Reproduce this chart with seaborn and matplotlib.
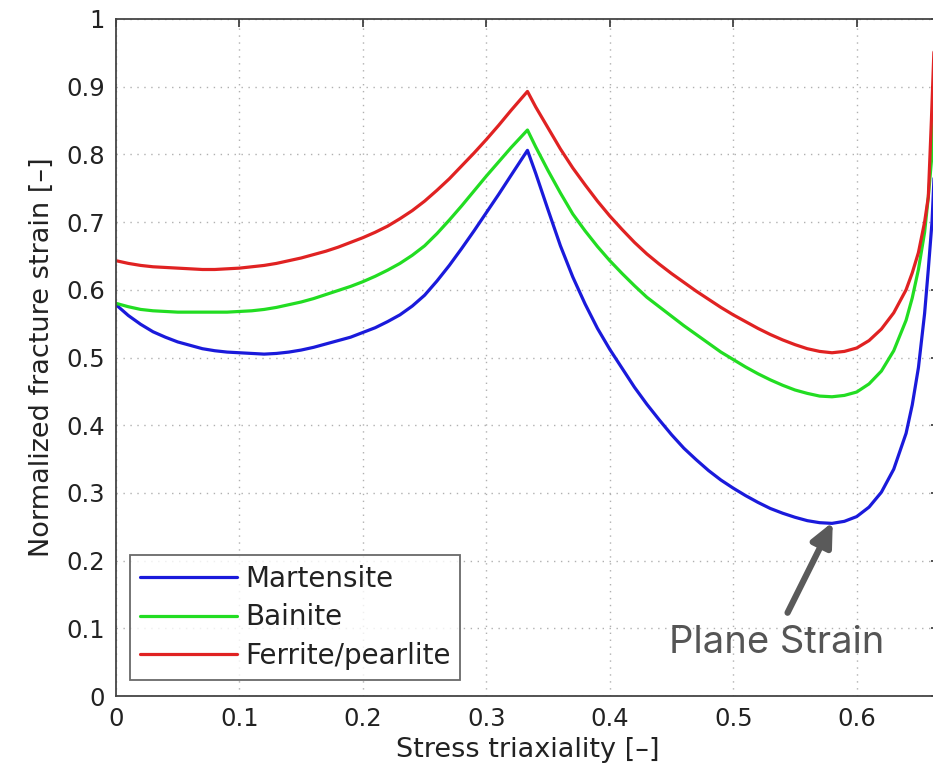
import numpy as np
import pandas as pd
import matplotlib
matplotlib.use("Agg")
import matplotlib.pyplot as plt
import seaborn as sns

# ---- data ----
materials = ["Martensite", "Bainite", "Ferrite/pearlite"]

x_mart = [0.000, 0.010, 0.020, 0.030, 0.040, 0.050, 0.060, 0.070, 0.080, 0.090,
          0.100, 0.110, 0.120, 0.130, 0.140, 0.150, 0.160, 0.170, 0.180, 0.190,
          0.200, 0.210, 0.220, 0.230, 0.240, 0.250, 0.260, 0.270, 0.280, 0.290,
          0.300, 0.310, 0.320, 0.3333, 0.340, 0.350, 0.360, 0.370, 0.380, 0.390,
          0.400, 0.410, 0.420, 0.430, 0.440, 0.450, 0.460, 0.470, 0.480, 0.490,
          0.500, 0.510, 0.520, 0.530, 0.540, 0.550, 0.560, 0.570, 0.580, 0.590,
          0.600, 0.610, 0.620, 0.630, 0.640, 0.645, 0.650, 0.655, 0.658, 0.661,
          0.6635, 0.6667]
y_mart = [0.578, 0.562, 0.549, 0.538, 0.530, 0.523, 0.518, 0.513, 0.510, 0.508,
          0.507, 0.506, 0.505, 0.506, 0.508, 0.511, 0.515, 0.520, 0.525, 0.530,
          0.537, 0.544, 0.553, 0.563, 0.576, 0.592, 0.613, 0.636, 0.661, 0.687,
          0.714, 0.741, 0.769, 0.806, 0.772, 0.718, 0.665, 0.619, 0.579, 0.543,
          0.512, 0.484, 0.456, 0.431, 0.408, 0.386, 0.366, 0.349, 0.333, 0.319,
          0.307, 0.296, 0.286, 0.277, 0.270, 0.264, 0.259, 0.256, 0.255, 0.258,
          0.265, 0.279, 0.301, 0.335, 0.388, 0.430, 0.485, 0.565, 0.630, 0.700,
          0.800, 1.000]

x_bain = [0.000, 0.010, 0.020, 0.030, 0.040, 0.050, 0.060, 0.070, 0.080, 0.090,
          0.100, 0.110, 0.120, 0.130, 0.140, 0.150, 0.160, 0.170, 0.180, 0.190,
          0.200, 0.210, 0.220, 0.230, 0.240, 0.250, 0.260, 0.270, 0.280, 0.290,
          0.300, 0.310, 0.320, 0.3333, 0.340, 0.350, 0.360, 0.370, 0.380, 0.390,
          0.400, 0.410, 0.420, 0.430, 0.440, 0.450, 0.460, 0.470, 0.480, 0.490,
          0.500, 0.510, 0.520, 0.530, 0.540, 0.550, 0.560, 0.570, 0.580, 0.590,
          0.600, 0.610, 0.620, 0.630, 0.640, 0.645, 0.650, 0.655, 0.658, 0.661,
          0.6635, 0.6667]
y_bain = [0.580, 0.575, 0.571, 0.569, 0.568, 0.567, 0.567, 0.567, 0.567, 0.567,
          0.568, 0.569, 0.571, 0.574, 0.578, 0.582, 0.587, 0.593, 0.599, 0.605,
          0.612, 0.620, 0.629, 0.639, 0.651, 0.665, 0.683, 0.703, 0.724, 0.746,
          0.768, 0.789, 0.810, 0.836, 0.811, 0.776, 0.743, 0.712, 0.687, 0.664,
          0.643, 0.624, 0.606, 0.589, 0.575, 0.561, 0.547, 0.534, 0.521, 0.508,
          0.497, 0.486, 0.476, 0.467, 0.459, 0.452, 0.447, 0.443, 0.442, 0.444,
          0.449, 0.461, 0.480, 0.510, 0.555, 0.588, 0.630, 0.685, 0.737, 0.800,
          0.880, 1.000]

x_ferr = [0.000, 0.010, 0.020, 0.030, 0.040, 0.050, 0.060, 0.070, 0.080, 0.090,
          0.100, 0.110, 0.120, 0.130, 0.140, 0.150, 0.160, 0.170, 0.180, 0.190,
          0.200, 0.210, 0.220, 0.230, 0.240, 0.250, 0.260, 0.270, 0.280, 0.290,
          0.300, 0.310, 0.320, 0.3333, 0.340, 0.350, 0.360, 0.370, 0.380, 0.390,
          0.400, 0.410, 0.420, 0.430, 0.440, 0.450, 0.460, 0.470, 0.480, 0.490,
          0.500, 0.510, 0.520, 0.530, 0.540, 0.550, 0.560, 0.570, 0.580, 0.590,
          0.600, 0.610, 0.620, 0.630, 0.640, 0.645, 0.650, 0.655, 0.658, 0.6605,
          0.6625, 0.6667]
y_ferr = [0.643, 0.639, 0.636, 0.634, 0.633, 0.632, 0.631, 0.630, 0.630, 0.631,
          0.632, 0.634, 0.636, 0.639, 0.643, 0.647, 0.652, 0.657, 0.663, 0.670,
          0.677, 0.685, 0.694, 0.705, 0.717, 0.731, 0.747, 0.764, 0.783, 0.802,
          0.822, 0.843, 0.865, 0.893, 0.870, 0.839, 0.808, 0.780, 0.755, 0.731,
          0.709, 0.689, 0.670, 0.653, 0.638, 0.624, 0.611, 0.598, 0.586, 0.574,
          0.563, 0.553, 0.543, 0.534, 0.526, 0.519, 0.513, 0.509, 0.507, 0.509,
          0.514, 0.525, 0.542, 0.566, 0.600, 0.625, 0.655, 0.700, 0.737, 0.850,
          0.950, 1.000]

x_ticks = [0, 0.1, 0.2, 0.3, 0.4, 0.5, 0.6]
x_ticklabels = ["0", "0.1", "0.2", "0.3", "0.4", "0.5", "0.6"]
y_ticks = [0, 0.1, 0.2, 0.3, 0.4, 0.5, 0.6, 0.7, 0.8, 0.9, 1.0]
y_ticklabels = ["0", "0.1", "0.2", "0.3", "0.4", "0.5", "0.6", "0.7", "0.8", "0.9", "1"]

colors = {"Martensite": "#1a1adb", "Bainite": "#22dd22", "Ferrite/pearlite": "#e02222"}

df = pd.concat([
    pd.DataFrame({"x": x_mart, "y": y_mart, "material": materials[0]}),
    pd.DataFrame({"x": x_bain, "y": y_bain, "material": materials[1]}),
    pd.DataFrame({"x": x_ferr, "y": y_ferr, "material": materials[2]}),
], ignore_index=True)

sns.set_style("white")
plt.rcParams["font.family"] = ["DejaVu Sans"]

fig = plt.figure(figsize=(9.33, 7.78), dpi=100)
ax = fig.add_axes([116 / 933, 82 / 778, (939 - 116) / 933, (696 - 19) / 778])

sns.lineplot(data=df, x="x", y="y", hue="material", hue_order=materials,
             palette=colors, sort=False, estimator=None, linewidth=2.3, ax=ax,
             legend=True)

ax.set_xlim(0, 2 / 3)
ax.set_ylim(0, 1)
ax.set_xticks(x_ticks)
ax.set_xticklabels(x_ticklabels)
ax.set_yticks(y_ticks)
ax.set_yticklabels(y_ticklabels)
ax.tick_params(direction="in", length=6, width=1.2, color="#333333",
               labelsize=17.5, labelcolor="#222222", top=True, right=True,
               pad=8)
ax.grid(True, linestyle=(0, (1, 4)), color="#b0b0b0", linewidth=1.0)
for s in ax.spines.values():
    s.set_color("#444444")
    s.set_linewidth(1.3)

ax.set_xlabel("Stress triaxiality [\u2013]", fontsize=19.5, color="#222222", labelpad=4)
ax.set_ylabel("Normalized fracture strain [\u2013]", fontsize=19.5, color="#222222", labelpad=8)

leg = ax.legend(loc="lower left", bbox_to_anchor=(0.017, 0.024), fontsize=20,
                frameon=True, fancybox=False, edgecolor="#444444",
                handlelength=3.5, handletextpad=0.3, labelspacing=0.38,
                borderpad=0.35, borderaxespad=0)
leg.get_frame().set_linewidth(1.3)
for t in leg.get_texts():
    t.set_color("#222222")
for l in leg.get_lines():
    l.set_linewidth(2.3)

ax.annotate("", xy=(0.5806, 0.257), xytext=(0.544, 0.123),
            arrowprops=dict(arrowstyle="-|>,head_length=1.4,head_width=0.65",
                            color="#5a5a5a", lw=4.5, shrinkA=0, shrinkB=0))
ax.text(0.535, 0.078, "Plane Strain", fontsize=27.5, color="#555555",
        ha="center", va="center", family=["Inter", "DejaVu Sans"])

fig.savefig("out.png", dpi=100)
